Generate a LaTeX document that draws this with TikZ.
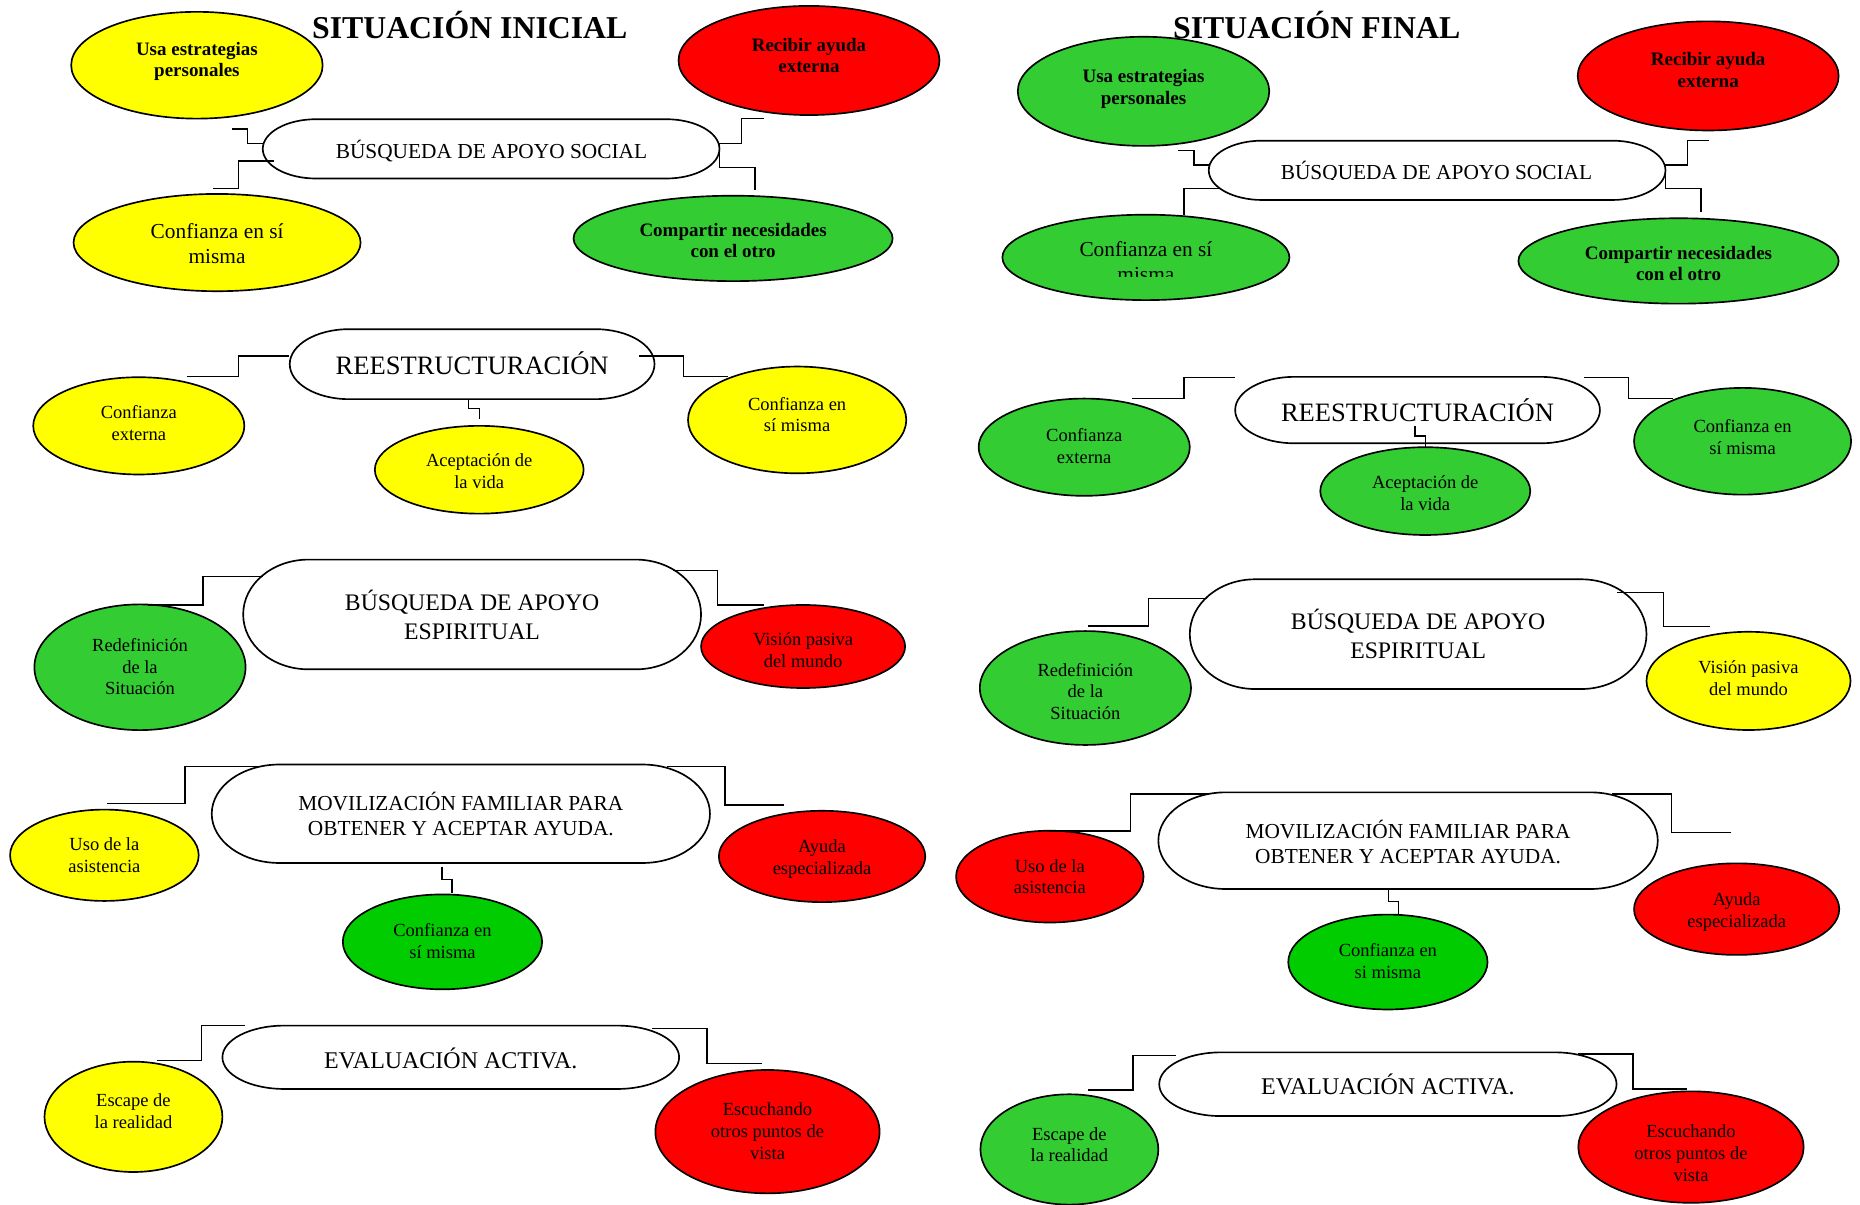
\documentclass[tikz,border=0pt]{standalone}
\usepackage{fontspec}
\setmainfont{Liberation Serif}
\usetikzlibrary{shapes.geometric}
\definecolor{cyel}{HTML}{FFFF00}
\definecolor{cred}{HTML}{FF0000}
\definecolor{cgrn}{HTML}{33CC33}
\definecolor{cgrnb}{HTML}{00CC00}
\tikzset{
  bub/.style={ellipse, draw=black, line width=0.7pt, inner sep=0pt},
  yb/.style={bub, fill=cyel},
  rb/.style={bub, fill=cred},
  gb/.style={bub, fill=cgrn},
  gbb/.style={bub, fill=cgrnb},
  fb/.style={font=\fontsize{8}{9}\selectfont\bfseries},
  fs/.style={font=\fontsize{7.8}{9.2}\selectfont},
  fm/.style={font=\fontsize{9}{10.5}\selectfont},
  ftitle/.style={font=\fontsize{13.4}{15}\selectfont\bfseries},
  stadline/.style={draw=black, fill=white, line width=0.7pt},
  stadnode/.style={rectangle, inner sep=0pt},
  ctext/.style={inner sep=0pt, align=center},
  conn/.style={draw=black, line width=0.6pt},
}
% name, cx, cy, w, h, a
\newcommand\mystad[6]{%
  \draw[stadline] ({#2-#4/2+#6},{#3-#5/2}) -- ({#2+#4/2-#6},{#3-#5/2})
    .. controls ({#2+#4/2-#6+0.5523*#6},{#3-#5/2}) and ({#2+#4/2},{#3-0.5523*#5/2}) .. ({#2+#4/2},{#3})
    .. controls ({#2+#4/2},{#3+0.5523*#5/2}) and ({#2+#4/2-#6+0.5523*#6},{#3+#5/2}) .. ({#2+#4/2-#6},{#3+#5/2})
    -- ({#2-#4/2+#6},{#3+#5/2})
    .. controls ({#2-#4/2+#6-0.5523*#6},{#3+#5/2}) and ({#2-#4/2},{#3+0.5523*#5/2}) .. ({#2-#4/2},{#3})
    .. controls ({#2-#4/2},{#3-0.5523*#5/2}) and ({#2-#4/2+#6-0.5523*#6},{#3-#5/2}) .. cycle;
  \node[stadnode, minimum width={#4*0.5pt}, minimum height={#5*0.5pt}] (#1) at (#2,#3) {};%
}
% style, font, name, x, y, rx(pt), ry(pt), text dy (px, + down), text
\newcommand\bubble[9]{%
  \node[#1, minimum width=#6pt, minimum height=#7pt] (#3) at (#4,#5) {};
  \node[ctext, #2] (#3t) at ([yshift={-0.5*(#8)}]#3.center) {#9};%
}
\begin{document}
\begin{tikzpicture}[x=0.5pt, y=-0.5pt]
\useasboundingbox (0,0) rectangle (1568,1015);

% ---------- central outlines ----------
\mystad{A3}{414}{125.5}{385}{50}{45}
\mystad{B1}{398}{307}{307.5}{59}{50}
\mystad{C1}{398}{518}{386}{92.5}{55}
\mystad{D1}{388.5}{686}{420}{83}{57}
\mystad{E1}{380}{891.3}{385}{53.4}{52}
\mystad{F3}{1211.5}{143.6}{385}{50}{45}
\mystad{G1}{1195}{345.7}{307.5}{56}{50}
\mystad{H1}{1195.5}{534.6}{385}{92.5}{55}
\mystad{I1}{1187}{708.7}{421}{81.5}{57}
\mystad{J1}{1170}{914}{385.5}{53.7}{52}

% ---------- left: situacion inicial ----------
\bubble{yb}{fb}{A1}{166}{55}{106}{45}{-3}{Usa estrategias\\personales}
\bubble{rb}{fb}{A2}{682}{51}{110}{46}{-4}{Recibir ayuda\\externa}
\bubble{yb}{fm}{A4}{183}{204.5}{121}{41}{0.5}{Confianza en sí\\misma}
\bubble{gb}{fb}{A5}{618}{201}{134.5}{36}{2}{Compartir necesidades\\con el otro}

\bubble{yb}{fs}{B2}{117}{359}{89}{41}{-2}{Confianza\\externa}
\bubble{yb}{fs}{B3}{404}{396}{88}{37}{1.5}{Aceptación de\\la vida}
\bubble{yb}{fs}{B4}{672}{354}{92}{45}{-4.5}{Confianza en\\sí misma}

\bubble{gb}{fs}{C2}{118}{562.5}{89}{53}{-0.5}{Redefinición\\de la\\Situación}
\bubble{rb}{fs}{C3}{677}{545}{86}{35}{3}{Visión pasiva\\del mundo}

\bubble{yb}{fs}{D2}{88}{721}{79.5}{38.5}{0}{Uso de la\\asistencia}
\bubble{rb}{fs}{D3}{693}{722}{87}{38.5}{2}{Ayuda\\especializada}
\bubble{gbb}{fs}{D4}{373}{794}{84}{40}{-0.5}{Confianza en\\sí misma}

\bubble{yb}{fs}{E2}{112.5}{941.5}{75}{46.5}{-5}{Escape de\\la realidad}
\bubble{rb}{fs}{E3}{647}{954}{94.5}{52}{-0.5}{Escuchando\\otros puntos de\\vista}

% ---------- right: situacion final ----------
\bubble{gb}{fb}{F1}{964}{77}{106}{46}{-2}{Usa estrategias\\personales}
\bubble{rb}{fb}{F2}{1440}{64}{110}{46}{-5}{Recibir ayuda\\externa}
\node[gb, minimum width=121pt, minimum height=36pt] (F4) at (966,217) {};
\bubble{gb}{fb}{F5}{1415}{220}{135}{36}{2}{Compartir necesidades\\con el otro}

\bubble{gb}{fs}{G2}{914}{377}{89}{41}{-1}{Confianza\\externa}
\bubble{gb}{fs}{G3}{1201.5}{414}{88.5}{37}{2}{Aceptación de\\la vida}
\bubble{gb}{fs}{G4}{1469}{372}{91.5}{45}{-3.5}{Confianza en\\sí misma}

\bubble{gb}{fs}{H2}{915}{580}{89}{48}{3}{Redefinición\\de la\\Situación}
\bubble{yb}{fs}{H3}{1474}{574}{86}{41.4}{-2}{Visión pasiva\\del mundo}

\bubble{rb}{fs}{I2}{885}{739}{79}{38.7}{0}{Uso de la\\asistencia}
\bubble{rb}{fs}{I3}{1464}{766.4}{86.5}{38.6}{2.5}{Ayuda\\especializada}
\bubble{gbb}{fs}{I4}{1170}{811}{84}{40}{-0.5}{Confianza en\\si misma}

\bubble{gb}{fs}{J2}{901.5}{969}{75}{46.5}{-4}{Escape de\\la realidad}
\bubble{rb}{fs}{J3}{1425.5}{967}{95}{47}{5}{Escuchando\\otros puntos de\\vista}

% ---------- connectors ----------
\draw[conn] (195.8,108.8) -| (208.8,120.8) -- (222,120.8);
\draw[conn] (179.8,158.8) -| (200.9,135.7) -- (231,135.7);
\draw[conn] (606.4,120.8) -| (625.2,100) -- (644,100);
\draw[conn] (606.4,120.8) |- (636.5,141) -- (636.5,160.5);

\draw[conn] (157.5,317.5) -| (201,300) -- (244,300);
\draw[conn] (539,300) -| (576,317.5) -- (614,317.5);
\draw[conn] (395,336.4) |- (404,344.2) -- (404,353.5);

\draw[conn] (125,510) -| (171,486) -- (221.5,486);
\draw[conn] (567.5,481) -| (605,510) -- (644,510);

\draw[conn] (90,677.2) -| (156,646.3) -- (221.5,646.3);
\draw[conn] (562.5,646.3) -| (611,678.6) -- (661,678.6);
\draw[conn] (372.5,730.6) |- (381,741.3) -- (381,753);

\draw[conn] (132.5,894) -| (170,864.6) -- (206.5,864.6);
\draw[conn] (550,867) -| (596,896.4) -- (642.5,896.4);

\draw[conn] (993,127) -| (1006.5,139) -- (1019,139);
\draw[conn] (998,181) |- (1028,159);
\draw[conn] (1404,139) -| (1422.5,118.6) -- (1440.5,118.6);
\draw[conn] (1404,139) |- (1434,159) -- (1434,178.4);

\draw[conn] (954,336) -| (998,318.4) -- (1041.5,318.4);
\draw[conn] (1335.5,318.4) -| (1373,336) -- (1410.5,336);
\draw[conn] (1193,359.2) |- (1201.5,367.6) -- (1201.5,377);

\draw[conn] (917.5,527.8) -| (968,504.4) -- (1017.5,504.4);
\draw[conn] (1363,499.7) -| (1402.5,528.3) -- (1441.5,528.3);

\draw[conn] (884,700.6) -| (953,669.4) -- (1019,669.4);
\draw[conn] (1359,669.4) -| (1409,701.7) -- (1459,701.7);
\draw[conn] (1170.5,749.5) |- (1179,760.1) -- (1179,770.8);

\draw[conn] (917.5,919) -| (955,890) -- (991.5,890);
\draw[conn] (1330.5,888.5) -| (1376.5,918) -- (1422.5,918);

% ---------- central texts ----------
\node[ctext, anchor=base, font=\fontsize{9}{10.5}\selectfont] (A3t) at (414.3,133.6) {BÚSQUEDA DE APOYO SOCIAL};
\node[ctext, anchor=base, font=\fontsize{11.2}{13}\selectfont] (B1t) at (398,315.3) {REESTRUCTURACIÓN};
\node[ctext, font=\fontsize{10}{12.2}\selectfont] (C1t) at (398,518) {BÚSQUEDA DE APOYO\\ESPIRITUAL};
\node[ctext, font=\fontsize{9}{10.5}\selectfont] (D1t) at (388.5,686) {MOVILIZACIÓN FAMILIAR PARA\\OBTENER Y ACEPTAR AYUDA.};
\node[ctext, anchor=base, font=\fontsize{10.1}{12}\selectfont] (E1t) at (380,900.6) {EVALUACIÓN ACTIVA.};

\begin{scope}
\clip (1019,110) rectangle (1404,151);
\node[ctext, anchor=base, font=\fontsize{9}{10.5}\selectfont] (F3t) at (1211,151) {BÚSQUEDA DE APOYO SOCIAL};
\end{scope}
\node[ctext, anchor=base, font=\fontsize{11.2}{13}\selectfont] (G1t) at (1195,355.5) {REESTRUCTURACIÓN};
\node[ctext, font=\fontsize{10}{12.2}\selectfont] (H1t) at (1195.5,534.5) {BÚSQUEDA DE APOYO\\ESPIRITUAL};
\node[ctext, font=\fontsize{9}{10.5}\selectfont] (I1t) at (1187,709.5) {MOVILIZACIÓN FAMILIAR PARA\\OBTENER Y ACEPTAR AYUDA.};
\node[ctext, anchor=base, font=\fontsize{10.1}{12}\selectfont] (J1t) at (1170,923) {EVALUACIÓN ACTIVA.};

% final "Confianza en si misma" text, second line clipped
\node[ctext, anchor=base, fm] (F4a) at (966,216.4) {Confianza en sí};
\begin{scope}
\clip (850,200) rectangle (1080,233.2);
\node[ctext, anchor=base, fm] (F4b) at (966,237.4) {misma};
\end{scope}

% ---------- titles ----------
\node[ctext, anchor=base, ftitle] (T1) at (396,32.3) {SITUACIÓN INICIAL};
\node[ctext, anchor=base, ftitle] (T2) at (1110,32.3) {SITUACIÓN FINAL};
\end{tikzpicture}
\end{document}
